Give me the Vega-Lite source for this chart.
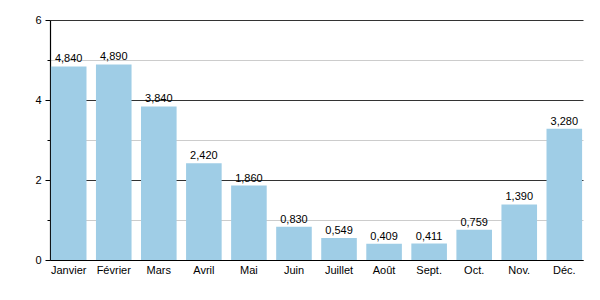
{
  "$schema": "https://vega.github.io/schema/vega-lite/v6.json",
  "autosize": {"type": "none"},
  "padding": {"left": 50, "top": 20, "right": 17, "bottom": 40},
  "width": 533,
  "height": 240,
  "background": "white",
  "config": {
    "locale": {"number": {"decimal": ",", "thousands": ".", "grouping": [3], "currency": ["", " €"]}},
    "font": "Liberation Sans",
    "view": {"stroke": null}
  },
  "data": {
    "values": [
      {"mois": "Janvier", "v": 4.84},
      {"mois": "Février", "v": 4.89},
      {"mois": "Mars", "v": 3.84},
      {"mois": "Avril", "v": 2.42},
      {"mois": "Mai", "v": 1.86},
      {"mois": "Juin", "v": 0.83},
      {"mois": "Juillet", "v": 0.549},
      {"mois": "Août", "v": 0.409},
      {"mois": "Sept.", "v": 0.411},
      {"mois": "Oct.", "v": 0.759},
      {"mois": "Nov.", "v": 1.39},
      {"mois": "Déc.", "v": 3.28}
    ]
  },
  "encoding": {
    "x": {
      "field": "mois", "type": "nominal", "sort": null,
      "scale": {"paddingInner": 0.21, "paddingOuter": 0.02},
      "axis": {"title": null, "labelAngle": 0, "labelFontSize": 11, "labelColor": "#000", "ticks": false, "domainColor": "#000", "domainWidth": 1.2, "labelPadding": 4}
    },
    "y": {
      "field": "v", "type": "quantitative",
      "scale": {"domain": [0, 6], "nice": false},
      "axis": {
        "title": null,
        "values": [0, 1, 2, 3, 4, 5, 6],
        "labelExpr": "datum.value % 2 == 0 ? datum.value : ''",
        "labelFontSize": 11, "labelColor": "#000", "labelPadding": 4,
        "domainColor": "#000", "domainWidth": 1.2,
        "tickColor": "#000",
        "tickSize": {"condition": {"test": "datum.value % 2 == 0", "value": 5}, "value": 3},
        "grid": true,
        "gridColor": {"condition": {"test": "datum.value % 2 == 0", "value": "#333333"}, "value": "#cccccc"},
        "gridWidth": 1
      }
    }
  },
  "layer": [
    {"mark": {"type": "bar", "color": "#9fcde6"}},
    {
      "mark": {"type": "text", "baseline": "bottom", "dy": -2, "fontSize": 11, "color": "#000"},
      "encoding": {"text": {"field": "v", "type": "quantitative", "format": ".3f"}}
    }
  ]
}
